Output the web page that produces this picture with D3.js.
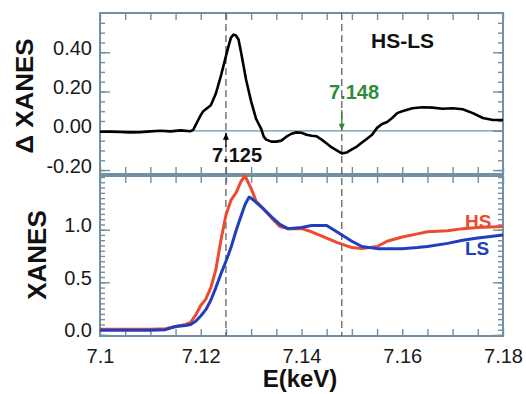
<!DOCTYPE html>
<html><head><meta charset="utf-8">
<script src="https://cdn.jsdelivr.net/npm/d3@7"></script>
<style>body{margin:0;background:#fff}svg{display:block;font-family:"Liberation Sans",Arial,sans-serif}</style>
</head><body>
<script>
// ---- data ----
const deltaE = [7.100,7.102,7.104,7.106,7.108,7.110,7.112,7.114,7.116,7.118,7.1185,7.119,7.1195,7.120,7.1205,7.121,7.1215,7.122,7.123,7.124,7.125,7.1255,7.126,7.1265,7.127,7.1275,7.128,7.1285,7.129,7.130,7.131,7.132,7.1325,7.133,7.134,7.135,7.136,7.137,7.138,7.139,7.140,7.141,7.142,7.143,7.144,7.145,7.146,7.147,7.148,7.149,7.150,7.151,7.152,7.153,7.154,7.155,7.156,7.157,7.158,7.159,7.160,7.162,7.164,7.166,7.168,7.170,7.172,7.174,7.176,7.178,7.180];
const deltaXanes = [-0.005,-0.004,-0.006,-0.008,-0.007,-0.003,0.000,-0.003,0.002,-0.002,0.005,0.03,0.055,0.08,0.10,0.11,0.12,0.13,0.19,0.28,0.38,0.43,0.475,0.49,0.485,0.465,0.40,0.33,0.26,0.15,0.06,0.01,-0.03,-0.045,-0.055,-0.055,-0.05,-0.03,-0.015,-0.008,-0.01,-0.02,-0.025,-0.028,-0.045,-0.065,-0.085,-0.10,-0.115,-0.11,-0.095,-0.08,-0.06,-0.04,-0.02,0.015,0.035,0.045,0.065,0.09,0.10,0.115,0.12,0.118,0.112,0.115,0.11,0.09,0.065,0.055,0.055];
const xanesE = [7.100,7.105,7.110,7.113,7.115,7.117,7.118,7.119,7.120,7.121,7.122,7.123,7.124,7.125,7.126,7.127,7.128,7.1288,7.1296,7.130,7.131,7.1324,7.1341,7.1357,7.1373,7.140,7.142,7.145,7.147,7.150,7.152,7.155,7.157,7.160,7.163,7.165,7.169,7.172,7.175,7.180];
const hsXanes = [0.055,0.055,0.055,0.06,0.08,0.10,0.12,0.19,0.28,0.34,0.45,0.62,0.90,1.14,1.28,1.35,1.46,1.51,1.43,1.39,1.27,1.20,1.11,1.03,1.01,1.01,0.98,0.92,0.88,0.83,0.82,0.84,0.89,0.93,0.96,0.98,0.99,1.01,1.02,1.03];
const lsXanes = [0.045,0.045,0.045,0.05,0.08,0.09,0.10,0.13,0.18,0.24,0.33,0.45,0.58,0.70,0.83,0.99,1.13,1.24,1.31,1.30,1.26,1.20,1.12,1.05,1.01,1.02,1.04,1.04,0.98,0.89,0.84,0.82,0.82,0.82,0.83,0.84,0.87,0.90,0.92,0.95];
const xTickValues = [7.1,7.12,7.14,7.16,7.18];
const topYTicks = [-0.2,0.0,0.2,0.4];
const topYLabels = ["-0.20","0.00","0.20","0.40"];
const botYTicks = [0.0,0.5,1.0];
const botYLabels = ["0.0","0.5","1.0"];
const markerE = [7.125,7.148];
const markerLabels = ["7.125","7.148"];

// ---- layout ----
const W=526,H=394;
const L=100,R=503, T1=13,B1=174, T2=176,B2=336;
const axisCol="#7390a2";
const svg=d3.select("body").append("svg").attr("width",W).attr("height",H);

const x=d3.scaleLinear().domain([7.1,7.18]).range([L,R]);
const yT=d3.scaleLinear().domain([-0.22,0.6]).range([B1,T1]);
const yB=d3.scaleLinear().domain([-0.01,1.51]).range([B2,T2]);

const xMinor=d3.range(0,17).map(i=>7.1+i*0.005);
const isLabeled=d=>xTickValues.some(v=>Math.abs(v-d)<1e-6);

function styleAxis(g){
  g.select(".domain").remove();
  g.selectAll("line").attr("stroke",axisCol).attr("stroke-width",1.4);
  g.selectAll("text").attr("fill","#1a1a1a").attr("font-size",20);
}
function xAxes(yTop,yBot,labels){
  svg.append("g").attr("transform",`translate(0,${yTop})`)
    .call(d3.axisTop(x).tickValues(xMinor).tickSize(-7).tickFormat("")).call(styleAxis);
  const g=svg.append("g").attr("transform",`translate(0,${yBot})`)
    .call(d3.axisBottom(x).tickValues(xMinor).tickSize(-7).tickPadding(13)
      .tickFormat(d=>labels&&isLabeled(d)?d3.format("")(+d.toFixed(2)):"")).call(styleAxis);
}
function yAxes(y,majors,labels,minors,fmtPad){
  svg.append("g").attr("transform",`translate(${L},0)`)
    .call(d3.axisLeft(y).tickValues(minors).tickSize(-5).tickFormat("")).call(styleAxis);
  const g=svg.append("g").attr("transform",`translate(${L},0)`)
    .call(d3.axisLeft(y).tickValues(majors).tickSize(-10).tickPadding(8)
      .tickFormat((d,i)=>labels[i])).call(styleAxis);
  g.selectAll("text").attr("dy","0.1em");
  svg.append("g").attr("transform",`translate(${R},0)`)
    .call(d3.axisRight(y).tickValues(minors).tickSize(-5).tickFormat("")).call(styleAxis);
  svg.append("g").attr("transform",`translate(${R},0)`)
    .call(d3.axisRight(y).tickValues(majors).tickSize(-10).tickFormat("")).call(styleAxis);
}

// zero line in top panel
svg.append("line").attr("x1",L).attr("x2",R).attr("y1",yT(0)).attr("y2",yT(0))
  .attr("stroke",axisCol).attr("stroke-width",1.3);

// axes
xAxes(T1,B1,false);
xAxes(T2,B2,true);
yAxes(yT,topYTicks,topYLabels,d3.range(-4,12).map(i=>i*0.05),0);
yAxes(yB,botYTicks,botYLabels,d3.range(0,31).map(i=>i*0.05),0);

// frames
[[T1,B1],[T2,B2]].forEach(([t,b])=>{
  svg.append("rect").attr("x",L).attr("y",t).attr("width",R-L).attr("height",b-t)
    .attr("fill","none").attr("stroke",axisCol).attr("stroke-width",2);
});

// dashed marker lines
markerE.forEach(e=>{
  svg.append("line").attr("x1",x(e)).attr("x2",x(e)).attr("y1",T1).attr("y2",B2)
    .attr("stroke","#555").attr("stroke-width",1.2).attr("stroke-dasharray","7,4");
});

// data lines
const lineT=d3.line().x((d,i)=>x(deltaE[i])).y(d=>yT(d));
svg.append("path").attr("d",lineT(deltaXanes)).attr("fill","none")
  .attr("stroke","#000").attr("stroke-width",2.6).attr("stroke-linejoin","round");
const lineB=d3.line().x((d,i)=>x(xanesE[i])).y(d=>yB(d));
svg.append("path").attr("d",lineB(hsXanes)).attr("fill","none")
  .attr("stroke","#ee4a30").attr("stroke-width",3).attr("stroke-linejoin","round");
svg.append("path").attr("d",lineB(lsXanes)).attr("fill","none")
  .attr("stroke","#1f3fc0").attr("stroke-width",3).attr("stroke-linejoin","round");

// annotations
function arrow(xp,y1,y2,col){ // tip at y2
  svg.append("line").attr("x1",xp).attr("x2",xp).attr("y1",y1).attr("y2",y2)
    .attr("stroke",col).attr("stroke-width",1.3);
  const dir=y2<y1?1:-1;
  svg.append("path").attr("d",`M${xp-3},${y2+dir*7} L${xp},${y2} L${xp+3},${y2+dir*7} Z`)
    .attr("fill",col);
}
arrow(x(markerE[0]),147,yT(0)+2,"#000");
arrow(x(markerE[1]),110,yT(-0.01)-2,"#2f8a3c");
svg.append("text").attr("x",237).attr("y",162).attr("text-anchor","middle")
  .attr("font-size",20).attr("font-weight","bold").attr("fill","#111").text(markerLabels[0]);
svg.append("text").attr("x",354).attr("y",99).attr("text-anchor","middle")
  .attr("font-size",20).attr("font-weight","bold").attr("fill","#2f8a3c").text(markerLabels[1]);
svg.append("text").attr("x",371).attr("y",48)
  .attr("font-size",21).attr("font-weight","bold").attr("fill","#111").text("HS-LS");
svg.append("text").attr("x",465).attr("y",228)
  .attr("font-size",19).attr("font-weight","bold").attr("fill","#ee4a30").text("HS");
svg.append("text").attr("x",465).attr("y",255)
  .attr("font-size",19).attr("font-weight","bold").attr("fill","#1f3fc0").text("LS");

// axis titles
svg.append("text").attr("transform","translate(33,96) rotate(-90)").attr("text-anchor","middle")
  .attr("font-size",23).attr("font-weight","bold").attr("fill","#111")
  .attr("textLength",115).attr("lengthAdjust","spacingAndGlyphs").text("Δ XANES");
svg.append("text").attr("transform","translate(46,255) rotate(-90)").attr("text-anchor","middle")
  .attr("font-size",26).attr("font-weight","bold").attr("fill","#111").text("XANES");
svg.append("text").attr("x",300).attr("y",387).attr("text-anchor","middle")
  .attr("font-size",24).attr("font-weight","bold").attr("fill","#111").text("E(keV)");
</script>
</body></html>
